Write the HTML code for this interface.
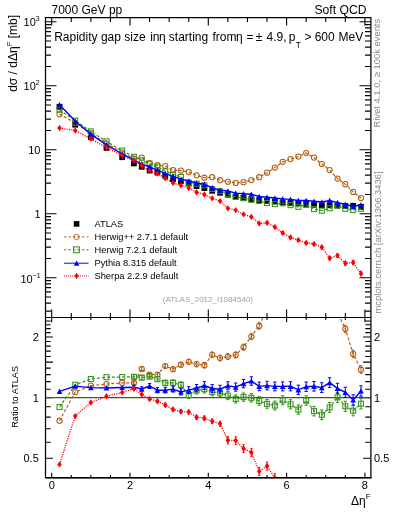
<!DOCTYPE html><html><head><meta charset="utf-8"><style>html,body{margin:0;padding:0;background:#fff;}svg{display:block;will-change:transform;font-family:"Liberation Sans",sans-serif;}</style></head><body>
<svg width="393" height="512" viewBox="0 0 393 512" font-family="Liberation Sans, sans-serif">
<rect width="393" height="512" fill="#fff"/>
<text x="51.5" y="13.7" font-size="12" fill="#000">7000 GeV pp</text>
<text x="366.5" y="13.7" font-size="12" fill="#000" text-anchor="end" textLength="52" lengthAdjust="spacingAndGlyphs">Soft QCD</text>
<defs><clipPath id="cu"><rect x="45.5" y="17.5" width="325.0" height="300.0"/></clipPath><clipPath id="cr"><rect x="45.5" y="317.5" width="325.0" height="160.0"/></clipPath></defs>
<path d="M45.5,311.16h5.5M370.5,311.16h-5.5M45.5,303.17h5.5M370.5,303.17h-5.5M45.5,296.97h5.5M370.5,296.97h-5.5M45.5,291.90h5.5M370.5,291.90h-5.5M45.5,287.61h5.5M370.5,287.61h-5.5M45.5,283.90h5.5M370.5,283.90h-5.5M45.5,280.63h5.5M370.5,280.63h-5.5M45.5,277.70h11M370.5,277.70h-11M45.5,258.43h5.5M370.5,258.43h-5.5M45.5,247.16h5.5M370.5,247.16h-5.5M45.5,239.17h5.5M370.5,239.17h-5.5M45.5,232.97h5.5M370.5,232.97h-5.5M45.5,227.90h5.5M370.5,227.90h-5.5M45.5,223.61h5.5M370.5,223.61h-5.5M45.5,219.90h5.5M370.5,219.90h-5.5M45.5,216.63h5.5M370.5,216.63h-5.5M45.5,213.70h11M370.5,213.70h-11M45.5,194.43h5.5M370.5,194.43h-5.5M45.5,183.16h5.5M370.5,183.16h-5.5M45.5,175.17h5.5M370.5,175.17h-5.5M45.5,168.97h5.5M370.5,168.97h-5.5M45.5,163.90h5.5M370.5,163.90h-5.5M45.5,159.61h5.5M370.5,159.61h-5.5M45.5,155.90h5.5M370.5,155.90h-5.5M45.5,152.63h5.5M370.5,152.63h-5.5M45.5,149.70h11M370.5,149.70h-11M45.5,130.43h5.5M370.5,130.43h-5.5M45.5,119.16h5.5M370.5,119.16h-5.5M45.5,111.17h5.5M370.5,111.17h-5.5M45.5,104.97h5.5M370.5,104.97h-5.5M45.5,99.90h5.5M370.5,99.90h-5.5M45.5,95.61h5.5M370.5,95.61h-5.5M45.5,91.90h5.5M370.5,91.90h-5.5M45.5,88.63h5.5M370.5,88.63h-5.5M45.5,85.70h11M370.5,85.70h-11M45.5,66.43h5.5M370.5,66.43h-5.5M45.5,55.16h5.5M370.5,55.16h-5.5M45.5,47.17h5.5M370.5,47.17h-5.5M45.5,40.97h5.5M370.5,40.97h-5.5M45.5,35.90h5.5M370.5,35.90h-5.5M45.5,31.61h5.5M370.5,31.61h-5.5M45.5,27.90h5.5M370.5,27.90h-5.5M45.5,24.63h5.5M370.5,24.63h-5.5M45.5,21.70h11M370.5,21.70h-11M51.70,17.5v8M51.70,317.5v-8M71.28,17.5v4.5M71.28,317.5v-4.5M90.85,17.5v4.5M90.85,317.5v-4.5M110.42,17.5v4.5M110.42,317.5v-4.5M130.00,17.5v8M130.00,317.5v-8M149.57,17.5v4.5M149.57,317.5v-4.5M169.15,17.5v4.5M169.15,317.5v-4.5M188.73,17.5v4.5M188.73,317.5v-4.5M208.30,17.5v8M208.30,317.5v-8M227.88,17.5v4.5M227.88,317.5v-4.5M247.45,17.5v4.5M247.45,317.5v-4.5M267.02,17.5v4.5M267.02,317.5v-4.5M286.60,17.5v8M286.60,317.5v-8M306.18,17.5v4.5M306.18,317.5v-4.5M325.75,17.5v4.5M325.75,317.5v-4.5M345.32,17.5v4.5M345.32,317.5v-4.5M364.90,17.5v8M364.90,317.5v-8M45.5,458.26h7.4M370.5,458.26h-7.4M45.5,442.30h5.2M370.5,442.30h-5.2M45.5,428.81h5.2M370.5,428.81h-5.2M45.5,417.13h5.2M370.5,417.13h-5.2M45.5,406.82h5.2M370.5,406.82h-5.2M45.5,397.60h7.4M370.5,397.60h-7.4M45.5,389.26h5.2M370.5,389.26h-5.2M45.5,381.64h5.2M370.5,381.64h-5.2M45.5,374.64h5.2M370.5,374.64h-5.2M45.5,368.16h5.2M370.5,368.16h-5.2M45.5,362.12h7.4M370.5,362.12h-7.4M45.5,356.47h5.2M370.5,356.47h-5.2M45.5,351.16h5.2M370.5,351.16h-5.2M45.5,346.16h5.2M370.5,346.16h-5.2M45.5,341.43h5.2M370.5,341.43h-5.2M45.5,336.94h7.4M370.5,336.94h-7.4M45.5,332.67h5.2M370.5,332.67h-5.2M45.5,328.60h5.2M370.5,328.60h-5.2M45.5,324.71h5.2M370.5,324.71h-5.2M45.5,320.99h5.2M370.5,320.99h-5.2M51.70,317.5v4.8M51.70,477.5v-4.8M71.28,317.5v2.5M71.28,477.5v-2.5M90.85,317.5v2.5M90.85,477.5v-2.5M110.42,317.5v2.5M110.42,477.5v-2.5M130.00,317.5v4.8M130.00,477.5v-4.8M149.57,317.5v2.5M149.57,477.5v-2.5M169.15,317.5v2.5M169.15,477.5v-2.5M188.73,317.5v2.5M188.73,477.5v-2.5M208.30,317.5v4.8M208.30,477.5v-4.8M227.88,317.5v2.5M227.88,477.5v-2.5M247.45,317.5v2.5M247.45,477.5v-2.5M267.02,317.5v2.5M267.02,477.5v-2.5M286.60,317.5v4.8M286.60,477.5v-4.8M306.18,317.5v2.5M306.18,477.5v-2.5M325.75,317.5v2.5M325.75,477.5v-2.5M345.32,317.5v2.5M345.32,477.5v-2.5M364.90,317.5v4.8M364.90,477.5v-4.8" stroke="#000" stroke-width="1.1" fill="none"/>
<text x="39.6" y="26.1" font-size="11" text-anchor="end" fill="#000">10<tspan font-size="7" dx="-0.1" dy="-4.8">3</tspan></text>
<text x="39.6" y="90.1" font-size="11" text-anchor="end" fill="#000">10<tspan font-size="7" dx="-0.1" dy="-4.8">2</tspan></text>
<text x="40.5" y="153.7" font-size="11" text-anchor="end" fill="#000">10</text>
<text x="40.5" y="217.7" font-size="11" text-anchor="end" fill="#000">1</text>
<text x="40.6" y="282.7" font-size="11" text-anchor="end" fill="#000">10<tspan font-size="7" dx="-0.1" dy="-4.8">−1</tspan></text>
<text x="38.8" y="340.9" font-size="11" text-anchor="end" fill="#000">2</text>
<text x="374" y="340.9" font-size="11" fill="#000">2</text>
<text x="38.8" y="401.6" font-size="11" text-anchor="end" fill="#000">1</text>
<text x="374" y="401.6" font-size="11" fill="#000">1</text>
<text x="38.8" y="462.3" font-size="11" text-anchor="end" fill="#000">0.5</text>
<text x="374" y="462.3" font-size="11" fill="#000">0.5</text>
<text x="51.7" y="489" font-size="11" text-anchor="middle" fill="#000">0</text>
<text x="130.0" y="489" font-size="11" text-anchor="middle" fill="#000">2</text>
<text x="208.3" y="489" font-size="11" text-anchor="middle" fill="#000">4</text>
<text x="286.6" y="489" font-size="11" text-anchor="middle" fill="#000">6</text>
<text x="364.9" y="489" font-size="11" text-anchor="middle" fill="#000">8</text>
<text x="351" y="505" font-size="12" fill="#000">Δη<tspan font-size="8" dy="-6.5">F</tspan></text>
<text transform="translate(16.8,91.8) rotate(-90)" font-size="12" fill="#000">dσ / dΔη<tspan font-size="7.8" dy="-5">F</tspan><tspan dy="5"> [mb]</tspan></text>
<text transform="translate(18.2,427.8) rotate(-90)" font-size="9.5" fill="#000" textLength="61.8" lengthAdjust="spacingAndGlyphs">Ratio to ATLAS</text>
<text transform="translate(380.3,127.6) rotate(-90)" font-size="9.5" fill="#888" textLength="108.8" lengthAdjust="spacingAndGlyphs">Rivet 4.1.0, ≥ 100k events</text>
<text transform="translate(380.6,313.6) rotate(-90)" font-size="9.5" fill="#888" textLength="142.2" lengthAdjust="spacingAndGlyphs">mcplots.cern.ch [arXiv:1306.3436]</text>
<text x="54.2" y="41.3" font-size="12" fill="#000">Rapidity gap size</text>
<text x="150.2" y="41.3" font-size="12" fill="#000">in</text>
<text x="158.9" y="41.3" font-size="12" fill="#000">η</text>
<text x="168.8" y="41.3" font-size="12" fill="#000">starting</text>
<text x="212.4" y="41.3" font-size="12" fill="#000">from</text>
<text x="236.1" y="41.3" font-size="12" fill="#000">η</text>
<text x="246.5" y="41.3" font-size="12" fill="#000">=</text>
<text x="255.8" y="41.3" font-size="12" fill="#000">±</text>
<text x="266.6" y="41.3" font-size="12" fill="#000">4.9,</text>
<text x="288.7" y="41.3" font-size="12" fill="#000">p</text>
<text x="304.4" y="41.3" font-size="12" fill="#000">&gt;</text>
<text x="314.7" y="41.3" font-size="12" fill="#000">600</text>
<text x="338.5" y="41.3" font-size="12" fill="#000">MeV</text>
<text x="295.7" y="47.8" font-size="8.3" fill="#000">T</text>
<text x="207.9" y="301.6" font-size="8" fill="#a0a0a0" text-anchor="middle">(ATLAS_2012_I1084540)</text>
<text x="94.5" y="227.1" font-size="9.3" fill="#000">ATLAS</text>
<text x="94.5" y="240.1" font-size="9.3" fill="#000">Herwig++ 2.7.1 default</text>
<text x="94.5" y="253.0" font-size="9.3" fill="#000">Herwig 7.2.1 default</text>
<text x="94.5" y="266.4" font-size="9.3" fill="#000">Pythia 8.315 default</text>
<text x="94.5" y="279.1" font-size="9.3" fill="#000">Sherpa 2.2.9 default</text>
<rect x="73.80" y="221.10" width="5.6" height="5.6" fill="#000"/>
<line x1="64" y1="236.9" x2="88.5" y2="236.9" stroke="#b25e14" stroke-width="1" stroke-dasharray="2.5,2"/><circle cx="76.5" cy="236.9" r="2.7" fill="none" stroke="#b25e14" stroke-width="0.9"/>
<line x1="64" y1="249.8" x2="88.5" y2="249.8" stroke="#35921a" stroke-width="1" stroke-dasharray="2.5,2"/><rect x="73.50" y="246.90" width="5.8" height="5.8" fill="none" stroke="#35921a" stroke-width="1.05"/>
<line x1="64" y1="263.2" x2="88.5" y2="263.2" stroke="#0000ff" stroke-width="1"/><polygon points="73.80,265.80 79.40,265.80 76.60,260.40" fill="#0000ff"/>
<line x1="64" y1="275.9" x2="88.5" y2="275.9" stroke="#ff0000" stroke-width="1" stroke-dasharray="1,1"/><polygon points="76.50,272.60 78.45,275.90 76.50,279.20 74.55,275.90" fill="#ff0000"/>
<g clip-path="url(#cu)">
<rect x="56.63" y="103.90" width="5.8" height="5.8" fill="#000"/>
<rect x="72.29" y="121.80" width="5.8" height="5.8" fill="#000"/>
<rect x="87.95" y="134.40" width="5.8" height="5.8" fill="#000"/>
<rect x="103.61" y="145.00" width="5.8" height="5.8" fill="#000"/>
<rect x="119.27" y="154.30" width="5.8" height="5.8" fill="#000"/>
<rect x="131.02" y="160.50" width="5.8" height="5.8" fill="#000"/>
<rect x="138.84" y="163.90" width="5.8" height="5.8" fill="#000"/>
<rect x="146.67" y="167.60" width="5.8" height="5.8" fill="#000"/>
<rect x="154.50" y="169.60" width="5.8" height="5.8" fill="#000"/>
<rect x="162.34" y="173.10" width="5.8" height="5.8" fill="#000"/>
<rect x="170.16" y="176.20" width="5.8" height="5.8" fill="#000"/>
<rect x="177.99" y="178.10" width="5.8" height="5.8" fill="#000"/>
<rect x="185.83" y="180.50" width="5.8" height="5.8" fill="#000"/>
<rect x="193.66" y="183.10" width="5.8" height="5.8" fill="#000"/>
<rect x="201.48" y="185.10" width="5.8" height="5.8" fill="#000"/>
<rect x="209.31" y="187.90" width="5.8" height="5.8" fill="#000"/>
<rect x="217.15" y="189.90" width="5.8" height="5.8" fill="#000"/>
<rect x="224.97" y="191.90" width="5.8" height="5.8" fill="#000"/>
<rect x="232.80" y="193.60" width="5.8" height="5.8" fill="#000"/>
<rect x="240.64" y="195.30" width="5.8" height="5.8" fill="#000"/>
<rect x="248.47" y="196.60" width="5.8" height="5.8" fill="#000"/>
<rect x="256.30" y="197.10" width="5.8" height="5.8" fill="#000"/>
<rect x="264.12" y="198.10" width="5.8" height="5.8" fill="#000"/>
<rect x="271.96" y="198.70" width="5.8" height="5.8" fill="#000"/>
<rect x="279.79" y="199.50" width="5.8" height="5.8" fill="#000"/>
<rect x="287.62" y="200.10" width="5.8" height="5.8" fill="#000"/>
<rect x="295.44" y="200.10" width="5.8" height="5.8" fill="#000"/>
<rect x="303.28" y="201.10" width="5.8" height="5.8" fill="#000"/>
<rect x="311.11" y="201.90" width="5.8" height="5.8" fill="#000"/>
<rect x="318.94" y="202.30" width="5.8" height="5.8" fill="#000"/>
<rect x="326.76" y="202.30" width="5.8" height="5.8" fill="#000"/>
<rect x="334.59" y="202.70" width="5.8" height="5.8" fill="#000"/>
<rect x="342.43" y="203.10" width="5.8" height="5.8" fill="#000"/>
<rect x="350.25" y="202.90" width="5.8" height="5.8" fill="#000"/>
<rect x="358.09" y="204.00" width="5.8" height="5.8" fill="#000"/>
<polyline points="59.53,114.14 75.19,122.98 90.85,133.49 106.51,143.58 122.17,152.53 133.92,158.73 141.75,157.68 149.57,163.16 157.41,165.16 165.24,166.00 173.06,170.08 180.89,170.55 188.73,172.03 196.56,175.36 204.38,177.71 212.21,177.21 220.05,180.22 227.88,181.78 235.70,182.94 243.54,182.19 251.37,180.09 259.19,177.23 267.02,172.70 274.86,167.60 282.69,161.80 290.51,159.10 298.34,156.50 306.18,153.00 314.00,157.60 321.83,164.00 329.66,170.10 337.49,178.60 345.32,184.18 353.15,191.92 360.99,198.04" fill="none" stroke="#b25e14" stroke-width="1.2" stroke-dasharray="3,2"/>
<circle cx="59.53" cy="114.14" r="2.6" fill="none" stroke="#b25e14" stroke-width="1.05"/>
<circle cx="75.19" cy="122.98" r="2.6" fill="none" stroke="#b25e14" stroke-width="1.05"/>
<circle cx="90.85" cy="133.49" r="2.6" fill="none" stroke="#b25e14" stroke-width="1.05"/>
<circle cx="106.51" cy="143.58" r="2.6" fill="none" stroke="#b25e14" stroke-width="1.05"/>
<circle cx="122.17" cy="152.53" r="2.6" fill="none" stroke="#b25e14" stroke-width="1.05"/>
<circle cx="133.92" cy="158.73" r="2.6" fill="none" stroke="#b25e14" stroke-width="1.05"/>
<circle cx="141.75" cy="157.68" r="2.6" fill="none" stroke="#b25e14" stroke-width="1.05"/>
<circle cx="149.57" cy="163.16" r="2.6" fill="none" stroke="#b25e14" stroke-width="1.05"/>
<circle cx="157.41" cy="165.16" r="2.6" fill="none" stroke="#b25e14" stroke-width="1.05"/>
<circle cx="165.24" cy="166.00" r="2.6" fill="none" stroke="#b25e14" stroke-width="1.05"/>
<circle cx="173.06" cy="170.08" r="2.6" fill="none" stroke="#b25e14" stroke-width="1.05"/>
<circle cx="180.89" cy="170.55" r="2.6" fill="none" stroke="#b25e14" stroke-width="1.05"/>
<circle cx="188.73" cy="172.03" r="2.6" fill="none" stroke="#b25e14" stroke-width="1.05"/>
<circle cx="196.56" cy="175.36" r="2.6" fill="none" stroke="#b25e14" stroke-width="1.05"/>
<circle cx="204.38" cy="177.71" r="2.6" fill="none" stroke="#b25e14" stroke-width="1.05"/>
<circle cx="212.21" cy="177.21" r="2.6" fill="none" stroke="#b25e14" stroke-width="1.05"/>
<circle cx="220.05" cy="180.22" r="2.6" fill="none" stroke="#b25e14" stroke-width="1.05"/>
<circle cx="227.88" cy="181.78" r="2.6" fill="none" stroke="#b25e14" stroke-width="1.05"/>
<circle cx="235.70" cy="182.94" r="2.6" fill="none" stroke="#b25e14" stroke-width="1.05"/>
<circle cx="243.54" cy="182.19" r="2.6" fill="none" stroke="#b25e14" stroke-width="1.05"/>
<circle cx="251.37" cy="180.09" r="2.6" fill="none" stroke="#b25e14" stroke-width="1.05"/>
<circle cx="259.19" cy="177.23" r="2.6" fill="none" stroke="#b25e14" stroke-width="1.05"/>
<circle cx="267.02" cy="172.70" r="2.6" fill="none" stroke="#b25e14" stroke-width="1.05"/>
<circle cx="274.86" cy="167.60" r="2.6" fill="none" stroke="#b25e14" stroke-width="1.05"/>
<circle cx="282.69" cy="161.80" r="2.6" fill="none" stroke="#b25e14" stroke-width="1.05"/>
<circle cx="290.51" cy="159.10" r="2.6" fill="none" stroke="#b25e14" stroke-width="1.05"/>
<circle cx="298.34" cy="156.50" r="2.6" fill="none" stroke="#b25e14" stroke-width="1.05"/>
<circle cx="306.18" cy="153.00" r="2.6" fill="none" stroke="#b25e14" stroke-width="1.05"/>
<circle cx="314.00" cy="157.60" r="2.6" fill="none" stroke="#b25e14" stroke-width="1.05"/>
<circle cx="321.83" cy="164.00" r="2.6" fill="none" stroke="#b25e14" stroke-width="1.05"/>
<circle cx="329.66" cy="170.10" r="2.6" fill="none" stroke="#b25e14" stroke-width="1.05"/>
<circle cx="337.49" cy="178.60" r="2.6" fill="none" stroke="#b25e14" stroke-width="1.05"/>
<circle cx="345.32" cy="184.18" r="2.6" fill="none" stroke="#b25e14" stroke-width="1.05"/>
<circle cx="353.15" cy="191.92" r="2.6" fill="none" stroke="#b25e14" stroke-width="1.05"/>
<circle cx="360.99" cy="198.04" r="2.6" fill="none" stroke="#b25e14" stroke-width="1.05"/>
<polyline points="59.53,109.79 75.19,120.63 90.85,131.39 106.51,141.42 122.17,150.66 133.92,156.79 141.75,160.45 149.57,163.80 157.41,166.62 165.24,171.33 173.06,174.40 180.89,177.00 188.73,182.57 196.56,183.71 204.38,185.33 212.21,188.99 220.05,191.24 227.88,194.16 235.70,196.91 243.54,198.04 251.37,199.56 259.19,201.05 267.02,203.00 274.86,204.11 282.69,203.26 290.51,205.13 298.34,206.81 306.18,204.92 314.00,209.09 321.83,210.66 329.66,208.31 337.49,205.50 345.32,208.76 353.15,209.96 360.99,208.84" fill="none" stroke="#35921a" stroke-width="1.2" stroke-dasharray="3,2"/>
<rect x="57.03" y="107.29" width="5.0" height="5.0" fill="none" stroke="#35921a" stroke-width="1.05"/>
<rect x="72.69" y="118.13" width="5.0" height="5.0" fill="none" stroke="#35921a" stroke-width="1.05"/>
<rect x="88.35" y="128.89" width="5.0" height="5.0" fill="none" stroke="#35921a" stroke-width="1.05"/>
<rect x="104.01" y="138.92" width="5.0" height="5.0" fill="none" stroke="#35921a" stroke-width="1.05"/>
<rect x="119.67" y="148.16" width="5.0" height="5.0" fill="none" stroke="#35921a" stroke-width="1.05"/>
<rect x="131.42" y="154.29" width="5.0" height="5.0" fill="none" stroke="#35921a" stroke-width="1.05"/>
<rect x="139.25" y="157.95" width="5.0" height="5.0" fill="none" stroke="#35921a" stroke-width="1.05"/>
<rect x="147.07" y="161.30" width="5.0" height="5.0" fill="none" stroke="#35921a" stroke-width="1.05"/>
<rect x="154.91" y="164.12" width="5.0" height="5.0" fill="none" stroke="#35921a" stroke-width="1.05"/>
<rect x="162.74" y="168.83" width="5.0" height="5.0" fill="none" stroke="#35921a" stroke-width="1.05"/>
<rect x="170.56" y="171.90" width="5.0" height="5.0" fill="none" stroke="#35921a" stroke-width="1.05"/>
<rect x="178.39" y="174.50" width="5.0" height="5.0" fill="none" stroke="#35921a" stroke-width="1.05"/>
<rect x="186.23" y="180.07" width="5.0" height="5.0" fill="none" stroke="#35921a" stroke-width="1.05"/>
<rect x="194.06" y="181.21" width="5.0" height="5.0" fill="none" stroke="#35921a" stroke-width="1.05"/>
<rect x="201.88" y="182.83" width="5.0" height="5.0" fill="none" stroke="#35921a" stroke-width="1.05"/>
<rect x="209.71" y="186.49" width="5.0" height="5.0" fill="none" stroke="#35921a" stroke-width="1.05"/>
<rect x="217.55" y="188.74" width="5.0" height="5.0" fill="none" stroke="#35921a" stroke-width="1.05"/>
<rect x="225.38" y="191.66" width="5.0" height="5.0" fill="none" stroke="#35921a" stroke-width="1.05"/>
<rect x="233.20" y="194.41" width="5.0" height="5.0" fill="none" stroke="#35921a" stroke-width="1.05"/>
<rect x="241.04" y="195.54" width="5.0" height="5.0" fill="none" stroke="#35921a" stroke-width="1.05"/>
<rect x="248.87" y="197.06" width="5.0" height="5.0" fill="none" stroke="#35921a" stroke-width="1.05"/>
<rect x="256.69" y="198.55" width="5.0" height="5.0" fill="none" stroke="#35921a" stroke-width="1.05"/>
<rect x="264.52" y="200.50" width="5.0" height="5.0" fill="none" stroke="#35921a" stroke-width="1.05"/>
<rect x="272.36" y="201.61" width="5.0" height="5.0" fill="none" stroke="#35921a" stroke-width="1.05"/>
<rect x="280.19" y="200.76" width="5.0" height="5.0" fill="none" stroke="#35921a" stroke-width="1.05"/>
<rect x="288.01" y="202.63" width="5.0" height="5.0" fill="none" stroke="#35921a" stroke-width="1.05"/>
<rect x="295.84" y="204.31" width="5.0" height="5.0" fill="none" stroke="#35921a" stroke-width="1.05"/>
<rect x="303.68" y="202.42" width="5.0" height="5.0" fill="none" stroke="#35921a" stroke-width="1.05"/>
<rect x="311.50" y="206.59" width="5.0" height="5.0" fill="none" stroke="#35921a" stroke-width="1.05"/>
<rect x="319.33" y="208.16" width="5.0" height="5.0" fill="none" stroke="#35921a" stroke-width="1.05"/>
<rect x="327.16" y="205.81" width="5.0" height="5.0" fill="none" stroke="#35921a" stroke-width="1.05"/>
<rect x="334.99" y="203.00" width="5.0" height="5.0" fill="none" stroke="#35921a" stroke-width="1.05"/>
<rect x="342.82" y="206.26" width="5.0" height="5.0" fill="none" stroke="#35921a" stroke-width="1.05"/>
<rect x="350.65" y="207.46" width="5.0" height="5.0" fill="none" stroke="#35921a" stroke-width="1.05"/>
<rect x="358.49" y="206.34" width="5.0" height="5.0" fill="none" stroke="#35921a" stroke-width="1.05"/>
<polyline points="59.53,104.80 75.19,121.05 90.85,134.12 106.51,144.85 122.17,153.99 133.92,160.10 141.75,164.07 149.57,166.82 157.41,170.15 165.24,173.65 173.06,176.40 180.89,179.19 188.73,181.02 196.56,182.98 204.38,184.16 212.21,187.91 220.05,190.13 227.88,191.05 235.70,193.17 243.54,193.75 251.37,194.23 259.19,196.44 267.02,197.19 274.86,198.04 282.69,198.84 290.51,199.41 298.34,200.52 306.18,200.54 314.00,201.21 321.83,202.02 329.66,200.47 337.49,202.65 345.32,204.32 353.15,206.53 360.99,204.80" fill="none" stroke="#0000ff" stroke-width="1.4"/>
<polygon points="56.73,107.40 62.33,107.40 59.53,102.00" fill="#0000ff"/>
<polygon points="72.39,123.65 77.99,123.65 75.19,118.25" fill="#0000ff"/>
<polygon points="88.05,136.72 93.65,136.72 90.85,131.32" fill="#0000ff"/>
<polygon points="103.71,147.45 109.31,147.45 106.51,142.05" fill="#0000ff"/>
<polygon points="119.37,156.59 124.97,156.59 122.17,151.19" fill="#0000ff"/>
<polygon points="131.12,162.70 136.72,162.70 133.92,157.30" fill="#0000ff"/>
<polygon points="138.94,166.67 144.55,166.67 141.75,161.27" fill="#0000ff"/>
<polygon points="146.77,169.42 152.38,169.42 149.57,164.02" fill="#0000ff"/>
<polygon points="154.60,172.75 160.21,172.75 157.41,167.35" fill="#0000ff"/>
<polygon points="162.44,176.25 168.04,176.25 165.24,170.85" fill="#0000ff"/>
<polygon points="170.26,179.00 175.87,179.00 173.06,173.60" fill="#0000ff"/>
<polygon points="178.09,181.79 183.69,181.79 180.89,176.39" fill="#0000ff"/>
<polygon points="185.93,183.62 191.53,183.62 188.73,178.22" fill="#0000ff"/>
<polygon points="193.75,185.58 199.36,185.58 196.56,180.18" fill="#0000ff"/>
<polygon points="201.58,186.76 207.19,186.76 204.38,181.36" fill="#0000ff"/>
<polygon points="209.41,190.51 215.01,190.51 212.21,185.11" fill="#0000ff"/>
<polygon points="217.25,192.73 222.85,192.73 220.05,187.33" fill="#0000ff"/>
<polygon points="225.07,193.65 230.68,193.65 227.88,188.25" fill="#0000ff"/>
<polygon points="232.90,195.77 238.50,195.77 235.70,190.37" fill="#0000ff"/>
<polygon points="240.74,196.35 246.34,196.35 243.54,190.95" fill="#0000ff"/>
<polygon points="248.56,196.83 254.17,196.83 251.37,191.43" fill="#0000ff"/>
<polygon points="256.39,199.04 262.00,199.04 259.19,193.64" fill="#0000ff"/>
<polygon points="264.22,199.79 269.82,199.79 267.02,194.39" fill="#0000ff"/>
<polygon points="272.06,200.64 277.66,200.64 274.86,195.24" fill="#0000ff"/>
<polygon points="279.88,201.44 285.49,201.44 282.69,196.04" fill="#0000ff"/>
<polygon points="287.71,202.01 293.31,202.01 290.51,196.61" fill="#0000ff"/>
<polygon points="295.54,203.12 301.14,203.12 298.34,197.72" fill="#0000ff"/>
<polygon points="303.38,203.14 308.98,203.14 306.18,197.74" fill="#0000ff"/>
<polygon points="311.20,203.81 316.81,203.81 314.00,198.41" fill="#0000ff"/>
<polygon points="319.03,204.62 324.63,204.62 321.83,199.22" fill="#0000ff"/>
<polygon points="326.86,203.07 332.46,203.07 329.66,197.67" fill="#0000ff"/>
<polygon points="334.69,205.25 340.29,205.25 337.49,199.85" fill="#0000ff"/>
<polygon points="342.52,206.92 348.12,206.92 345.32,201.52" fill="#0000ff"/>
<polygon points="350.35,209.13 355.95,209.13 353.15,203.73" fill="#0000ff"/>
<polygon points="358.19,207.40 363.79,207.40 360.99,202.00" fill="#0000ff"/>
<polyline points="59.53,128.02 75.19,130.58 90.85,138.86 106.51,147.49 122.17,155.55 133.92,160.57 141.75,165.78 149.57,170.91 157.41,173.64 165.24,178.35 173.06,182.88 180.89,185.38 188.73,188.01 196.56,192.23 204.38,194.54 212.21,198.33 220.05,201.09 227.88,208.33 235.70,210.16 243.54,214.37 251.37,216.91 259.19,223.44 267.02,222.76 274.86,227.10 282.69,232.90 290.51,237.50 298.34,240.10 306.18,242.90 314.00,244.00 321.83,247.30 329.66,258.20 337.49,255.60 345.32,263.30 353.15,262.50 360.99,273.50" fill="none" stroke="#ff0000" stroke-width="1.3" stroke-dasharray="1.2,1.2"/>
<path d="M267.02,221.76V223.76M265.92,221.76h2.2M265.92,223.76h2.2M274.86,226.00V228.20M273.75,226.00h2.2M273.75,228.20h2.2M282.69,231.70V234.10M281.58,231.70h2.2M281.58,234.10h2.2M290.51,236.20V238.80M289.41,236.20h2.2M289.41,238.80h2.2M298.34,238.70V241.50M297.24,238.70h2.2M297.24,241.50h2.2M306.18,241.40V244.40M305.07,241.40h2.2M305.07,244.40h2.2M314.00,242.40V245.60M312.90,242.40h2.2M312.90,245.60h2.2M321.83,245.60V249.00M320.73,245.60h2.2M320.73,249.00h2.2M329.66,256.40V260.00M328.56,256.40h2.2M328.56,260.00h2.2M337.49,253.70V257.50M336.39,253.70h2.2M336.39,257.50h2.2M345.32,261.30V265.30M344.22,261.30h2.2M344.22,265.30h2.2M353.15,260.40V264.60M352.05,260.40h2.2M352.05,264.60h2.2M360.99,271.30V275.70M359.88,271.30h2.2M359.88,275.70h2.2" stroke="#ff0000" stroke-width="1.0" fill="none"/>
<polygon points="59.53,124.82 61.78,128.02 59.53,131.22 57.28,128.02" fill="#ff0000"/>
<polygon points="75.19,127.38 77.44,130.58 75.19,133.78 72.94,130.58" fill="#ff0000"/>
<polygon points="90.85,135.66 93.10,138.86 90.85,142.06 88.60,138.86" fill="#ff0000"/>
<polygon points="106.51,144.29 108.76,147.49 106.51,150.69 104.26,147.49" fill="#ff0000"/>
<polygon points="122.17,152.35 124.42,155.55 122.17,158.75 119.92,155.55" fill="#ff0000"/>
<polygon points="133.92,157.37 136.17,160.57 133.92,163.77 131.67,160.57" fill="#ff0000"/>
<polygon points="141.75,162.58 144.00,165.78 141.75,168.98 139.50,165.78" fill="#ff0000"/>
<polygon points="149.57,167.71 151.82,170.91 149.57,174.11 147.32,170.91" fill="#ff0000"/>
<polygon points="157.41,170.44 159.66,173.64 157.41,176.84 155.16,173.64" fill="#ff0000"/>
<polygon points="165.24,175.15 167.49,178.35 165.24,181.55 162.99,178.35" fill="#ff0000"/>
<polygon points="173.06,179.68 175.31,182.88 173.06,186.08 170.81,182.88" fill="#ff0000"/>
<polygon points="180.89,182.18 183.14,185.38 180.89,188.58 178.64,185.38" fill="#ff0000"/>
<polygon points="188.73,184.81 190.98,188.01 188.73,191.21 186.48,188.01" fill="#ff0000"/>
<polygon points="196.56,189.03 198.81,192.23 196.56,195.43 194.31,192.23" fill="#ff0000"/>
<polygon points="204.38,191.34 206.63,194.54 204.38,197.74 202.13,194.54" fill="#ff0000"/>
<polygon points="212.21,195.13 214.46,198.33 212.21,201.53 209.96,198.33" fill="#ff0000"/>
<polygon points="220.05,197.89 222.30,201.09 220.05,204.29 217.80,201.09" fill="#ff0000"/>
<polygon points="227.88,205.13 230.12,208.33 227.88,211.53 225.62,208.33" fill="#ff0000"/>
<polygon points="235.70,206.96 237.95,210.16 235.70,213.36 233.45,210.16" fill="#ff0000"/>
<polygon points="243.54,211.17 245.79,214.37 243.54,217.57 241.29,214.37" fill="#ff0000"/>
<polygon points="251.37,213.71 253.62,216.91 251.37,220.11 249.12,216.91" fill="#ff0000"/>
<polygon points="259.19,220.24 261.44,223.44 259.19,226.64 256.94,223.44" fill="#ff0000"/>
<polygon points="267.02,219.56 269.27,222.76 267.02,225.96 264.77,222.76" fill="#ff0000"/>
<polygon points="274.86,223.90 277.11,227.10 274.86,230.30 272.61,227.10" fill="#ff0000"/>
<polygon points="282.69,229.70 284.94,232.90 282.69,236.10 280.44,232.90" fill="#ff0000"/>
<polygon points="290.51,234.30 292.76,237.50 290.51,240.70 288.26,237.50" fill="#ff0000"/>
<polygon points="298.34,236.90 300.59,240.10 298.34,243.30 296.09,240.10" fill="#ff0000"/>
<polygon points="306.18,239.70 308.43,242.90 306.18,246.10 303.93,242.90" fill="#ff0000"/>
<polygon points="314.00,240.80 316.25,244.00 314.00,247.20 311.75,244.00" fill="#ff0000"/>
<polygon points="321.83,244.10 324.08,247.30 321.83,250.50 319.58,247.30" fill="#ff0000"/>
<polygon points="329.66,255.00 331.91,258.20 329.66,261.40 327.41,258.20" fill="#ff0000"/>
<polygon points="337.49,252.40 339.74,255.60 337.49,258.80 335.24,255.60" fill="#ff0000"/>
<polygon points="345.32,260.10 347.57,263.30 345.32,266.50 343.07,263.30" fill="#ff0000"/>
<polygon points="353.15,259.30 355.40,262.50 353.15,265.70 350.90,262.50" fill="#ff0000"/>
<polygon points="360.99,270.30 363.24,273.50 360.99,276.70 358.74,273.50" fill="#ff0000"/>
</g>
<g clip-path="url(#cr)">
<line x1="45.5" y1="397.6" x2="370.5" y2="397.6" stroke="#3b5a2e" stroke-width="1.3"/>
<polyline points="59.53,420.70 75.19,392.20 90.85,385.60 106.51,384.00 122.17,382.90 133.92,382.90 141.75,368.90 149.57,374.50 157.41,374.50 165.24,366.10 173.06,369.20 180.89,364.70 188.73,361.80 196.56,364.10 204.38,365.20 212.21,354.80 220.05,358.00 227.88,356.60 235.70,354.90 243.54,347.20 251.37,336.50 259.19,325.90 267.02,308.50 274.86,290.55 282.69,269.77 290.51,259.38 298.34,251.20 306.18,237.03 314.00,248.99 321.83,267.88 329.66,287.09 337.49,312.59 345.32,328.90 353.15,353.90 360.99,369.70" fill="none" stroke="#b25e14" stroke-width="1.2" stroke-dasharray="3,2"/>
<path d="M133.92,381.40V384.40M132.72,381.40h2.4M132.72,384.40h2.4M141.75,367.25V370.55M140.55,367.25h2.4M140.55,370.55h2.4M149.57,372.70V376.30M148.38,372.70h2.4M148.38,376.30h2.4M157.41,372.55V376.45M156.21,372.55h2.4M156.21,376.45h2.4M165.24,364.00V368.20M164.04,364.00h2.4M164.04,368.20h2.4M173.06,366.95V371.45M171.87,366.95h2.4M171.87,371.45h2.4M180.89,362.30V367.10M179.69,362.30h2.4M179.69,367.10h2.4M188.73,359.25V364.35M187.53,359.25h2.4M187.53,364.35h2.4M196.56,361.40V366.80M195.36,361.40h2.4M195.36,366.80h2.4M204.38,362.35V368.05M203.19,362.35h2.4M203.19,368.05h2.4M212.21,351.90V357.70M211.01,351.90h2.4M211.01,357.70h2.4M220.05,355.05V360.95M218.85,355.05h2.4M218.85,360.95h2.4M227.88,353.59V359.61M226.68,353.59h2.4M226.68,359.61h2.4M235.70,351.84V357.96M234.50,351.84h2.4M234.50,357.96h2.4M243.54,344.09V350.31M242.34,344.09h2.4M242.34,350.31h2.4M251.37,333.33V339.67M250.17,333.33h2.4M250.17,339.67h2.4M259.19,322.68V329.12M258.00,322.68h2.4M258.00,329.12h2.4M267.02,305.23V311.77M265.82,305.23h2.4M265.82,311.77h2.4M274.86,287.23V293.88M273.66,287.23h2.4M273.66,293.88h2.4M282.69,266.40V273.15M281.49,266.40h2.4M281.49,273.15h2.4M290.51,255.96V262.81M289.31,255.96h2.4M289.31,262.81h2.4M298.34,247.72V254.68M297.14,247.72h2.4M297.14,254.68h2.4M306.18,233.50V240.56M304.98,233.50h2.4M304.98,240.56h2.4M314.00,245.41V252.58M312.81,245.41h2.4M312.81,252.58h2.4M321.83,264.25V271.52M320.63,264.25h2.4M320.63,271.52h2.4M329.66,283.40V290.78M328.46,283.40h2.4M328.46,290.78h2.4M337.49,308.85V316.33M336.29,308.85h2.4M336.29,316.33h2.4M345.32,325.10V332.69M344.12,325.10h2.4M344.12,332.69h2.4M353.15,350.05V357.75M351.95,350.05h2.4M351.95,357.75h2.4M360.99,365.80V373.60M359.79,365.80h2.4M359.79,373.60h2.4" stroke="#b25e14" stroke-width="1.0" fill="none"/>
<circle cx="59.53" cy="420.70" r="2.6" fill="none" stroke="#b25e14" stroke-width="1.05"/>
<circle cx="75.19" cy="392.20" r="2.6" fill="none" stroke="#b25e14" stroke-width="1.05"/>
<circle cx="90.85" cy="385.60" r="2.6" fill="none" stroke="#b25e14" stroke-width="1.05"/>
<circle cx="106.51" cy="384.00" r="2.6" fill="none" stroke="#b25e14" stroke-width="1.05"/>
<circle cx="122.17" cy="382.90" r="2.6" fill="none" stroke="#b25e14" stroke-width="1.05"/>
<circle cx="133.92" cy="382.90" r="2.6" fill="none" stroke="#b25e14" stroke-width="1.05"/>
<circle cx="141.75" cy="368.90" r="2.6" fill="none" stroke="#b25e14" stroke-width="1.05"/>
<circle cx="149.57" cy="374.50" r="2.6" fill="none" stroke="#b25e14" stroke-width="1.05"/>
<circle cx="157.41" cy="374.50" r="2.6" fill="none" stroke="#b25e14" stroke-width="1.05"/>
<circle cx="165.24" cy="366.10" r="2.6" fill="none" stroke="#b25e14" stroke-width="1.05"/>
<circle cx="173.06" cy="369.20" r="2.6" fill="none" stroke="#b25e14" stroke-width="1.05"/>
<circle cx="180.89" cy="364.70" r="2.6" fill="none" stroke="#b25e14" stroke-width="1.05"/>
<circle cx="188.73" cy="361.80" r="2.6" fill="none" stroke="#b25e14" stroke-width="1.05"/>
<circle cx="196.56" cy="364.10" r="2.6" fill="none" stroke="#b25e14" stroke-width="1.05"/>
<circle cx="204.38" cy="365.20" r="2.6" fill="none" stroke="#b25e14" stroke-width="1.05"/>
<circle cx="212.21" cy="354.80" r="2.6" fill="none" stroke="#b25e14" stroke-width="1.05"/>
<circle cx="220.05" cy="358.00" r="2.6" fill="none" stroke="#b25e14" stroke-width="1.05"/>
<circle cx="227.88" cy="356.60" r="2.6" fill="none" stroke="#b25e14" stroke-width="1.05"/>
<circle cx="235.70" cy="354.90" r="2.6" fill="none" stroke="#b25e14" stroke-width="1.05"/>
<circle cx="243.54" cy="347.20" r="2.6" fill="none" stroke="#b25e14" stroke-width="1.05"/>
<circle cx="251.37" cy="336.50" r="2.6" fill="none" stroke="#b25e14" stroke-width="1.05"/>
<circle cx="259.19" cy="325.90" r="2.6" fill="none" stroke="#b25e14" stroke-width="1.05"/>
<circle cx="267.02" cy="308.50" r="2.6" fill="none" stroke="#b25e14" stroke-width="1.05"/>
<circle cx="274.86" cy="290.55" r="2.6" fill="none" stroke="#b25e14" stroke-width="1.05"/>
<circle cx="282.69" cy="269.77" r="2.6" fill="none" stroke="#b25e14" stroke-width="1.05"/>
<circle cx="290.51" cy="259.38" r="2.6" fill="none" stroke="#b25e14" stroke-width="1.05"/>
<circle cx="298.34" cy="251.20" r="2.6" fill="none" stroke="#b25e14" stroke-width="1.05"/>
<circle cx="306.18" cy="237.03" r="2.6" fill="none" stroke="#b25e14" stroke-width="1.05"/>
<circle cx="314.00" cy="248.99" r="2.6" fill="none" stroke="#b25e14" stroke-width="1.05"/>
<circle cx="321.83" cy="267.88" r="2.6" fill="none" stroke="#b25e14" stroke-width="1.05"/>
<circle cx="329.66" cy="287.09" r="2.6" fill="none" stroke="#b25e14" stroke-width="1.05"/>
<circle cx="337.49" cy="312.59" r="2.6" fill="none" stroke="#b25e14" stroke-width="1.05"/>
<circle cx="345.32" cy="328.90" r="2.6" fill="none" stroke="#b25e14" stroke-width="1.05"/>
<circle cx="353.15" cy="353.90" r="2.6" fill="none" stroke="#b25e14" stroke-width="1.05"/>
<circle cx="360.99" cy="369.70" r="2.6" fill="none" stroke="#b25e14" stroke-width="1.05"/>
<polyline points="59.53,407.00 75.19,384.80 90.85,379.00 106.51,377.20 122.17,377.00 133.92,376.80 141.75,377.60 149.57,376.50 157.41,379.10 165.24,382.90 173.06,382.80 180.89,385.00 188.73,395.00 196.56,390.40 204.38,389.20 212.21,391.90 220.05,392.70 227.88,395.60 235.70,398.90 243.54,397.10 251.37,397.80 259.19,400.90 267.02,403.90 274.86,405.50 282.69,400.30 290.51,404.30 298.34,409.60 306.18,400.50 314.00,411.10 321.83,414.80 329.66,407.40 337.49,397.30 345.32,406.30 353.15,410.70 360.99,403.70" fill="none" stroke="#35921a" stroke-width="1.2" stroke-dasharray="3,2"/>
<path d="M133.92,374.80V378.80M132.22,374.80h3.4M132.22,378.80h3.4M141.75,375.40V379.80M140.05,375.40h3.4M140.05,379.80h3.4M149.57,374.10V378.90M147.88,374.10h3.4M147.88,378.90h3.4M157.41,376.50V381.70M155.71,376.50h3.4M155.71,381.70h3.4M165.24,380.10V385.70M163.54,380.10h3.4M163.54,385.70h3.4M173.06,379.80V385.80M171.37,379.80h3.4M171.37,385.80h3.4M180.89,381.80V388.20M179.19,381.80h3.4M179.19,388.20h3.4M188.73,391.60V398.40M187.03,391.60h3.4M187.03,398.40h3.4M196.56,386.80V394.00M194.86,386.80h3.4M194.86,394.00h3.4M204.38,385.40V393.00M202.69,385.40h3.4M202.69,393.00h3.4M212.21,388.03V395.77M210.51,388.03h3.4M210.51,395.77h3.4M220.05,388.76V396.64M218.35,388.76h3.4M218.35,396.64h3.4M227.88,391.59V399.61M226.18,391.59h3.4M226.18,399.61h3.4M235.70,394.82V402.98M234.00,394.82h3.4M234.00,402.98h3.4M243.54,392.95V401.25M241.84,392.95h3.4M241.84,401.25h3.4M251.37,393.58V402.02M249.67,393.58h3.4M249.67,402.02h3.4M259.19,396.61V405.19M257.50,396.61h3.4M257.50,405.19h3.4M267.02,399.54V408.26M265.32,399.54h3.4M265.32,408.26h3.4M274.86,401.07V409.93M273.16,401.07h3.4M273.16,409.93h3.4M282.69,395.80V404.80M280.99,395.80h3.4M280.99,404.80h3.4M290.51,399.73V408.87M288.81,399.73h3.4M288.81,408.87h3.4M298.34,404.96V414.24M296.64,404.96h3.4M296.64,414.24h3.4M306.18,395.79V405.21M304.48,395.79h3.4M304.48,405.21h3.4M314.00,406.32V415.88M312.31,406.32h3.4M312.31,415.88h3.4M321.83,409.95V419.65M320.13,409.95h3.4M320.13,419.65h3.4M329.66,402.48V412.32M327.96,402.48h3.4M327.96,412.32h3.4M337.49,392.31V402.29M335.79,392.31h3.4M335.79,402.29h3.4M345.32,401.24V411.36M343.62,401.24h3.4M343.62,411.36h3.4M353.15,405.57V415.83M351.45,405.57h3.4M351.45,415.83h3.4M360.99,398.50V408.90M359.29,398.50h3.4M359.29,408.90h3.4" stroke="#35921a" stroke-width="1.0" fill="none"/>
<rect x="57.03" y="404.50" width="5.0" height="5.0" fill="none" stroke="#35921a" stroke-width="1.05"/>
<rect x="72.69" y="382.30" width="5.0" height="5.0" fill="none" stroke="#35921a" stroke-width="1.05"/>
<rect x="88.35" y="376.50" width="5.0" height="5.0" fill="none" stroke="#35921a" stroke-width="1.05"/>
<rect x="104.01" y="374.70" width="5.0" height="5.0" fill="none" stroke="#35921a" stroke-width="1.05"/>
<rect x="119.67" y="374.50" width="5.0" height="5.0" fill="none" stroke="#35921a" stroke-width="1.05"/>
<rect x="131.42" y="374.30" width="5.0" height="5.0" fill="none" stroke="#35921a" stroke-width="1.05"/>
<rect x="139.25" y="375.10" width="5.0" height="5.0" fill="none" stroke="#35921a" stroke-width="1.05"/>
<rect x="147.07" y="374.00" width="5.0" height="5.0" fill="none" stroke="#35921a" stroke-width="1.05"/>
<rect x="154.91" y="376.60" width="5.0" height="5.0" fill="none" stroke="#35921a" stroke-width="1.05"/>
<rect x="162.74" y="380.40" width="5.0" height="5.0" fill="none" stroke="#35921a" stroke-width="1.05"/>
<rect x="170.56" y="380.30" width="5.0" height="5.0" fill="none" stroke="#35921a" stroke-width="1.05"/>
<rect x="178.39" y="382.50" width="5.0" height="5.0" fill="none" stroke="#35921a" stroke-width="1.05"/>
<rect x="186.23" y="392.50" width="5.0" height="5.0" fill="none" stroke="#35921a" stroke-width="1.05"/>
<rect x="194.06" y="387.90" width="5.0" height="5.0" fill="none" stroke="#35921a" stroke-width="1.05"/>
<rect x="201.88" y="386.70" width="5.0" height="5.0" fill="none" stroke="#35921a" stroke-width="1.05"/>
<rect x="209.71" y="389.40" width="5.0" height="5.0" fill="none" stroke="#35921a" stroke-width="1.05"/>
<rect x="217.55" y="390.20" width="5.0" height="5.0" fill="none" stroke="#35921a" stroke-width="1.05"/>
<rect x="225.38" y="393.10" width="5.0" height="5.0" fill="none" stroke="#35921a" stroke-width="1.05"/>
<rect x="233.20" y="396.40" width="5.0" height="5.0" fill="none" stroke="#35921a" stroke-width="1.05"/>
<rect x="241.04" y="394.60" width="5.0" height="5.0" fill="none" stroke="#35921a" stroke-width="1.05"/>
<rect x="248.87" y="395.30" width="5.0" height="5.0" fill="none" stroke="#35921a" stroke-width="1.05"/>
<rect x="256.69" y="398.40" width="5.0" height="5.0" fill="none" stroke="#35921a" stroke-width="1.05"/>
<rect x="264.52" y="401.40" width="5.0" height="5.0" fill="none" stroke="#35921a" stroke-width="1.05"/>
<rect x="272.36" y="403.00" width="5.0" height="5.0" fill="none" stroke="#35921a" stroke-width="1.05"/>
<rect x="280.19" y="397.80" width="5.0" height="5.0" fill="none" stroke="#35921a" stroke-width="1.05"/>
<rect x="288.01" y="401.80" width="5.0" height="5.0" fill="none" stroke="#35921a" stroke-width="1.05"/>
<rect x="295.84" y="407.10" width="5.0" height="5.0" fill="none" stroke="#35921a" stroke-width="1.05"/>
<rect x="303.68" y="398.00" width="5.0" height="5.0" fill="none" stroke="#35921a" stroke-width="1.05"/>
<rect x="311.50" y="408.60" width="5.0" height="5.0" fill="none" stroke="#35921a" stroke-width="1.05"/>
<rect x="319.33" y="412.30" width="5.0" height="5.0" fill="none" stroke="#35921a" stroke-width="1.05"/>
<rect x="327.16" y="404.90" width="5.0" height="5.0" fill="none" stroke="#35921a" stroke-width="1.05"/>
<rect x="334.99" y="394.80" width="5.0" height="5.0" fill="none" stroke="#35921a" stroke-width="1.05"/>
<rect x="342.82" y="403.80" width="5.0" height="5.0" fill="none" stroke="#35921a" stroke-width="1.05"/>
<rect x="350.65" y="408.20" width="5.0" height="5.0" fill="none" stroke="#35921a" stroke-width="1.05"/>
<rect x="358.49" y="401.20" width="5.0" height="5.0" fill="none" stroke="#35921a" stroke-width="1.05"/>
<polyline points="59.53,391.30 75.19,386.10 90.85,387.60 106.51,388.00 122.17,387.50 133.92,387.20 141.75,389.00 149.57,386.00 157.41,390.20 165.24,390.20 173.06,389.10 180.89,391.90 188.73,390.10 196.56,388.10 204.38,385.50 212.21,388.50 220.05,389.20 227.88,385.80 235.70,387.10 243.54,383.60 251.37,381.00 259.19,386.40 267.02,385.60 274.86,386.40 282.69,386.40 290.51,386.30 298.34,389.80 306.18,386.70 314.00,386.30 321.83,387.60 329.66,382.70 337.49,388.30 345.32,392.30 353.15,399.90 360.99,391.00" fill="none" stroke="#0000ff" stroke-width="1.4"/>
<path d="M133.92,385.20V389.20M132.22,385.20h3.4M132.22,389.20h3.4M141.75,386.80V391.20M140.05,386.80h3.4M140.05,391.20h3.4M149.57,383.60V388.40M147.88,383.60h3.4M147.88,388.40h3.4M157.41,387.60V392.80M155.71,387.60h3.4M155.71,392.80h3.4M165.24,387.40V393.00M163.54,387.40h3.4M163.54,393.00h3.4M173.06,386.10V392.10M171.37,386.10h3.4M171.37,392.10h3.4M180.89,388.70V395.10M179.19,388.70h3.4M179.19,395.10h3.4M188.73,386.70V393.50M187.03,386.70h3.4M187.03,393.50h3.4M196.56,384.50V391.70M194.86,384.50h3.4M194.86,391.70h3.4M204.38,381.70V389.30M202.69,381.70h3.4M202.69,389.30h3.4M212.21,384.63V392.37M210.51,384.63h3.4M210.51,392.37h3.4M220.05,385.26V393.14M218.35,385.26h3.4M218.35,393.14h3.4M227.88,381.79V389.81M226.18,381.79h3.4M226.18,389.81h3.4M235.70,383.02V391.18M234.00,383.02h3.4M234.00,391.18h3.4M243.54,379.45V387.75M241.84,379.45h3.4M241.84,387.75h3.4M251.37,376.78V385.22M249.67,376.78h3.4M249.67,385.22h3.4M259.19,382.11V390.69M257.50,382.11h3.4M257.50,390.69h3.4M267.02,381.24V389.96M265.32,381.24h3.4M265.32,389.96h3.4M274.86,381.97V390.83M273.16,381.97h3.4M273.16,390.83h3.4M282.69,381.90V390.90M280.99,381.90h3.4M280.99,390.90h3.4M290.51,381.73V390.87M288.81,381.73h3.4M288.81,390.87h3.4M298.34,385.16V394.44M296.64,385.16h3.4M296.64,394.44h3.4M306.18,381.99V391.41M304.48,381.99h3.4M304.48,391.41h3.4M314.00,381.52V391.08M312.31,381.52h3.4M312.31,391.08h3.4M321.83,382.75V392.45M320.13,382.75h3.4M320.13,392.45h3.4M329.66,377.78V387.62M327.96,377.78h3.4M327.96,387.62h3.4M337.49,383.31V393.29M335.79,383.31h3.4M335.79,393.29h3.4M345.32,387.24V397.36M343.62,387.24h3.4M343.62,397.36h3.4M353.15,394.77V405.03M351.45,394.77h3.4M351.45,405.03h3.4M360.99,385.80V396.20M359.29,385.80h3.4M359.29,396.20h3.4" stroke="#0000ff" stroke-width="1.0" fill="none"/>
<polygon points="56.73,393.90 62.33,393.90 59.53,388.50" fill="#0000ff"/>
<polygon points="72.39,388.70 77.99,388.70 75.19,383.30" fill="#0000ff"/>
<polygon points="88.05,390.20 93.65,390.20 90.85,384.80" fill="#0000ff"/>
<polygon points="103.71,390.60 109.31,390.60 106.51,385.20" fill="#0000ff"/>
<polygon points="119.37,390.10 124.97,390.10 122.17,384.70" fill="#0000ff"/>
<polygon points="131.12,389.80 136.72,389.80 133.92,384.40" fill="#0000ff"/>
<polygon points="138.94,391.60 144.55,391.60 141.75,386.20" fill="#0000ff"/>
<polygon points="146.77,388.60 152.38,388.60 149.57,383.20" fill="#0000ff"/>
<polygon points="154.60,392.80 160.21,392.80 157.41,387.40" fill="#0000ff"/>
<polygon points="162.44,392.80 168.04,392.80 165.24,387.40" fill="#0000ff"/>
<polygon points="170.26,391.70 175.87,391.70 173.06,386.30" fill="#0000ff"/>
<polygon points="178.09,394.50 183.69,394.50 180.89,389.10" fill="#0000ff"/>
<polygon points="185.93,392.70 191.53,392.70 188.73,387.30" fill="#0000ff"/>
<polygon points="193.75,390.70 199.36,390.70 196.56,385.30" fill="#0000ff"/>
<polygon points="201.58,388.10 207.19,388.10 204.38,382.70" fill="#0000ff"/>
<polygon points="209.41,391.10 215.01,391.10 212.21,385.70" fill="#0000ff"/>
<polygon points="217.25,391.80 222.85,391.80 220.05,386.40" fill="#0000ff"/>
<polygon points="225.07,388.40 230.68,388.40 227.88,383.00" fill="#0000ff"/>
<polygon points="232.90,389.70 238.50,389.70 235.70,384.30" fill="#0000ff"/>
<polygon points="240.74,386.20 246.34,386.20 243.54,380.80" fill="#0000ff"/>
<polygon points="248.56,383.60 254.17,383.60 251.37,378.20" fill="#0000ff"/>
<polygon points="256.39,389.00 262.00,389.00 259.19,383.60" fill="#0000ff"/>
<polygon points="264.22,388.20 269.82,388.20 267.02,382.80" fill="#0000ff"/>
<polygon points="272.06,389.00 277.66,389.00 274.86,383.60" fill="#0000ff"/>
<polygon points="279.88,389.00 285.49,389.00 282.69,383.60" fill="#0000ff"/>
<polygon points="287.71,388.90 293.31,388.90 290.51,383.50" fill="#0000ff"/>
<polygon points="295.54,392.40 301.14,392.40 298.34,387.00" fill="#0000ff"/>
<polygon points="303.38,389.30 308.98,389.30 306.18,383.90" fill="#0000ff"/>
<polygon points="311.20,388.90 316.81,388.90 314.00,383.50" fill="#0000ff"/>
<polygon points="319.03,390.20 324.63,390.20 321.83,384.80" fill="#0000ff"/>
<polygon points="326.86,385.30 332.46,385.30 329.66,379.90" fill="#0000ff"/>
<polygon points="334.69,390.90 340.29,390.90 337.49,385.50" fill="#0000ff"/>
<polygon points="342.52,394.90 348.12,394.90 345.32,389.50" fill="#0000ff"/>
<polygon points="350.35,402.50 355.95,402.50 353.15,397.10" fill="#0000ff"/>
<polygon points="358.19,393.60 363.79,393.60 360.99,388.20" fill="#0000ff"/>
<polyline points="59.53,464.40 75.19,416.10 90.85,402.50 106.51,396.30 122.17,392.40 133.92,388.70 141.75,394.40 149.57,398.90 157.41,401.20 165.24,405.00 173.06,409.50 180.89,411.40 188.73,412.10 196.56,417.20 204.38,418.20 212.21,421.30 220.05,423.70 227.88,440.20 235.70,440.60 243.54,448.50 251.37,452.40 259.19,471.40 267.02,466.10 274.86,477.89 282.69,493.63 290.51,506.22 298.34,514.41 306.18,520.07 314.00,521.02 321.83,530.15 329.66,564.47 337.49,555.02 345.32,578.01 353.15,576.12 360.99,607.29" fill="none" stroke="#ff0000" stroke-width="1.3" stroke-dasharray="1.2,1.2"/>
<path d="M133.92,387.50V389.90M132.82,387.50h2.2M132.82,389.90h2.2M141.75,393.08V395.72M140.65,393.08h2.2M140.65,395.72h2.2M149.57,397.46V400.34M148.47,397.46h2.2M148.47,400.34h2.2M157.41,399.64V402.76M156.31,399.64h2.2M156.31,402.76h2.2M165.24,403.32V406.68M164.14,403.32h2.2M164.14,406.68h2.2M173.06,407.70V411.30M171.97,407.70h2.2M171.97,411.30h2.2M180.89,409.48V413.32M179.79,409.48h2.2M179.79,413.32h2.2M188.73,410.06V414.14M187.63,410.06h2.2M187.63,414.14h2.2M196.56,415.04V419.36M195.46,415.04h2.2M195.46,419.36h2.2M204.38,415.92V420.48M203.28,415.92h2.2M203.28,420.48h2.2M212.21,418.98V423.62M211.11,418.98h2.2M211.11,423.62h2.2M220.05,421.34V426.06M218.95,421.34h2.2M218.95,426.06h2.2M227.88,436.39V444.01M226.78,436.39h2.2M226.78,444.01h2.2M235.70,436.72V444.48M234.60,436.72h2.2M234.60,444.48h2.2M243.54,444.56V452.44M242.44,444.56h2.2M242.44,452.44h2.2M251.37,448.39V456.41M250.27,448.39h2.2M250.27,456.41h2.2M259.19,467.32V475.48M258.09,467.32h2.2M258.09,475.48h2.2M267.02,461.96V470.24M265.92,461.96h2.2M265.92,470.24h2.2M274.86,473.68V482.09M273.75,473.68h2.2M273.75,482.09h2.2M282.69,489.35V497.90M281.58,489.35h2.2M281.58,497.90h2.2M290.51,501.88V510.56M289.41,501.88h2.2M289.41,510.56h2.2M298.34,510.00V518.82M297.24,510.00h2.2M297.24,518.82h2.2M306.18,515.60V524.55M305.07,515.60h2.2M305.07,524.55h2.2M314.00,516.48V525.56M312.90,516.48h2.2M312.90,525.56h2.2M321.83,525.54V534.76M320.73,525.54h2.2M320.73,534.76h2.2M329.66,559.79V569.14M328.56,559.79h2.2M328.56,569.14h2.2M337.49,550.28V559.76M336.39,550.28h2.2M336.39,559.76h2.2M345.32,573.20V582.81M344.22,573.20h2.2M344.22,582.81h2.2M353.15,571.24V580.99M352.05,571.24h2.2M352.05,580.99h2.2M360.99,602.35V612.23M359.88,602.35h2.2M359.88,612.23h2.2" stroke="#ff0000" stroke-width="1.0" fill="none"/>
<polygon points="59.53,461.20 61.78,464.40 59.53,467.60 57.28,464.40" fill="#ff0000"/>
<polygon points="75.19,412.90 77.44,416.10 75.19,419.30 72.94,416.10" fill="#ff0000"/>
<polygon points="90.85,399.30 93.10,402.50 90.85,405.70 88.60,402.50" fill="#ff0000"/>
<polygon points="106.51,393.10 108.76,396.30 106.51,399.50 104.26,396.30" fill="#ff0000"/>
<polygon points="122.17,389.20 124.42,392.40 122.17,395.60 119.92,392.40" fill="#ff0000"/>
<polygon points="133.92,385.50 136.17,388.70 133.92,391.90 131.67,388.70" fill="#ff0000"/>
<polygon points="141.75,391.20 144.00,394.40 141.75,397.60 139.50,394.40" fill="#ff0000"/>
<polygon points="149.57,395.70 151.82,398.90 149.57,402.10 147.32,398.90" fill="#ff0000"/>
<polygon points="157.41,398.00 159.66,401.20 157.41,404.40 155.16,401.20" fill="#ff0000"/>
<polygon points="165.24,401.80 167.49,405.00 165.24,408.20 162.99,405.00" fill="#ff0000"/>
<polygon points="173.06,406.30 175.31,409.50 173.06,412.70 170.81,409.50" fill="#ff0000"/>
<polygon points="180.89,408.20 183.14,411.40 180.89,414.60 178.64,411.40" fill="#ff0000"/>
<polygon points="188.73,408.90 190.98,412.10 188.73,415.30 186.48,412.10" fill="#ff0000"/>
<polygon points="196.56,414.00 198.81,417.20 196.56,420.40 194.31,417.20" fill="#ff0000"/>
<polygon points="204.38,415.00 206.63,418.20 204.38,421.40 202.13,418.20" fill="#ff0000"/>
<polygon points="212.21,418.10 214.46,421.30 212.21,424.50 209.96,421.30" fill="#ff0000"/>
<polygon points="220.05,420.50 222.30,423.70 220.05,426.90 217.80,423.70" fill="#ff0000"/>
<polygon points="227.88,437.00 230.12,440.20 227.88,443.40 225.62,440.20" fill="#ff0000"/>
<polygon points="235.70,437.40 237.95,440.60 235.70,443.80 233.45,440.60" fill="#ff0000"/>
<polygon points="243.54,445.30 245.79,448.50 243.54,451.70 241.29,448.50" fill="#ff0000"/>
<polygon points="251.37,449.20 253.62,452.40 251.37,455.60 249.12,452.40" fill="#ff0000"/>
<polygon points="259.19,468.20 261.44,471.40 259.19,474.60 256.94,471.40" fill="#ff0000"/>
<polygon points="267.02,462.90 269.27,466.10 267.02,469.30 264.77,466.10" fill="#ff0000"/>
<polygon points="274.86,474.69 277.11,477.89 274.86,481.09 272.61,477.89" fill="#ff0000"/>
<polygon points="282.69,490.43 284.94,493.63 282.69,496.83 280.44,493.63" fill="#ff0000"/>
<polygon points="290.51,503.02 292.76,506.22 290.51,509.42 288.26,506.22" fill="#ff0000"/>
<polygon points="298.34,511.21 300.59,514.41 298.34,517.61 296.09,514.41" fill="#ff0000"/>
<polygon points="306.18,516.87 308.43,520.07 306.18,523.27 303.93,520.07" fill="#ff0000"/>
<polygon points="314.00,517.82 316.25,521.02 314.00,524.22 311.75,521.02" fill="#ff0000"/>
<polygon points="321.83,526.95 324.08,530.15 321.83,533.35 319.58,530.15" fill="#ff0000"/>
<polygon points="329.66,561.27 331.91,564.47 329.66,567.67 327.41,564.47" fill="#ff0000"/>
<polygon points="337.49,551.82 339.74,555.02 337.49,558.22 335.24,555.02" fill="#ff0000"/>
<polygon points="345.32,574.81 347.57,578.01 345.32,581.21 343.07,578.01" fill="#ff0000"/>
<polygon points="353.15,572.92 355.40,576.12 353.15,579.32 350.90,576.12" fill="#ff0000"/>
<polygon points="360.99,604.09 363.24,607.29 360.99,610.49 358.74,607.29" fill="#ff0000"/>
</g>
<path d="M45.5,16.9V478.2M44.9,17.5H371.5M370.9,16.9V478.2M44.9,477.7H371.5" fill="none" stroke="#000" stroke-width="1.25"/>
<line x1="45.5" y1="477.7" x2="371.5" y2="477.7" stroke="#000" stroke-width="1.6"/>
<line x1="45.5" y1="317.5" x2="370.5" y2="317.5" stroke="#000" stroke-width="1"/>
</svg></body></html>
